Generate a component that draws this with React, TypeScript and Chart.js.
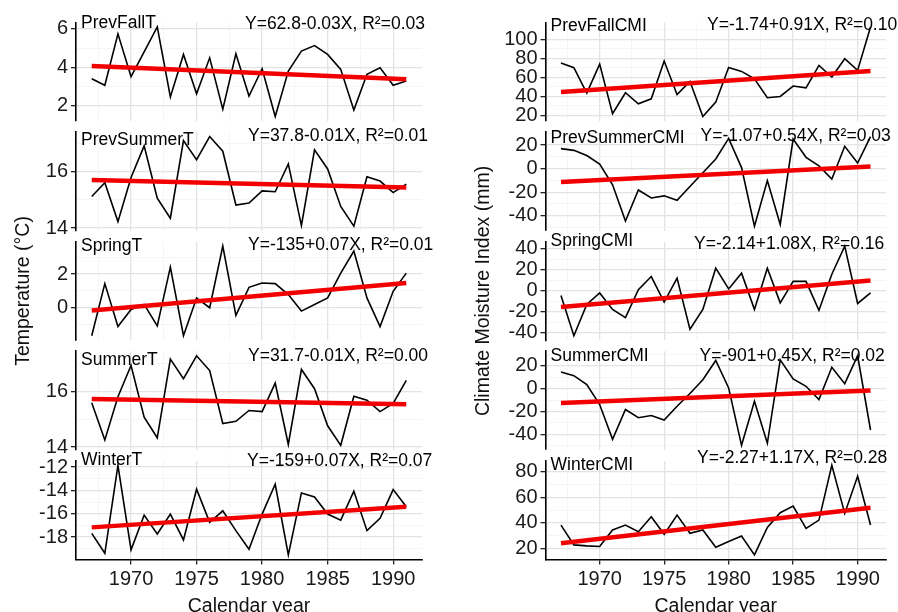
import React, { useEffect, useRef } from 'react';
import { Chart, registerables } from 'chart.js';

Chart.register(...registerables);

// ---------------- data ----------------
const years = [1967, 1968, 1969, 1970, 1971, 1972, 1973, 1974, 1975, 1976, 1977, 1978, 1979, 1980, 1981, 1982, 1983, 1984, 1985, 1986, 1987, 1988, 1989, 1990, 1991];

const prevFallT = [3.40, 3.06, 5.74, 3.51, 4.80, 6.10, 2.45, 4.67, 2.62, 4.49, 1.81, 4.70, 2.50, 3.92, 1.43, 3.80, 4.84, 5.13, 4.67, 3.89, 1.77, 3.63, 3.97, 3.06, 3.28];
const prevSummerT = [15.12, 15.61, 14.23, 15.80, 16.92, 15.06, 14.35, 17.11, 16.43, 17.25, 16.73, 14.82, 14.89, 15.32, 15.29, 16.28, 14.09, 16.78, 16.10, 14.77, 14.07, 15.82, 15.67, 15.26, 15.56];
const springT = [-1.70, 1.43, -1.15, -0.12, 0.18, -1.11, 2.42, -1.70, 0.57, -0.02, 3.68, -0.48, 1.21, 1.47, 1.43, 0.77, -0.22, 0.18, 0.57, 2.06, 3.39, 0.57, -1.15, 0.97, 2.06];
const summerT = [15.59, 14.25, 15.80, 16.92, 15.07, 14.33, 17.15, 16.45, 17.27, 16.74, 14.84, 14.92, 15.31, 15.27, 16.29, 14.09, 16.78, 16.09, 14.76, 14.06, 15.82, 15.68, 15.27, 15.56, 16.39];
const winterT = [-17.68, -19.39, -11.86, -19.10, -16.12, -17.74, -16.03, -18.25, -13.90, -16.74, -15.75, -17.45, -19.05, -16.03, -13.48, -19.53, -14.22, -14.56, -16.03, -16.55, -14.07, -17.45, -16.40, -13.93, -15.41];

const prevFallCMI = [75.1, 70.2, 43.5, 74.0, 21.8, 43.9, 32.3, 37.5, 77.2, 42.1, 55.8, 18.9, 34.0, 70.5, 66.3, 58.6, 38.6, 40.0, 50.9, 49.1, 72.6, 60.4, 79.6, 67.4, 113.0];
const prevSummerCMI = [17.0, 15.5, 11.1, 3.8, -13.7, -44.4, -18.1, -24.9, -23.1, -26.9, -15.2, -3.5, 8.2, 25.7, 0.9, -48.8, -10.2, -47.4, 25.1, 9.6, 2.3, -8.8, 19.0, 4.7, 27.2];
const springCMI = [-4.7, -42.8, -13.1, -2.2, -17.8, -25.6, 0.9, 13.4, -10.9, 11.9, -36.6, -17.8, 21.3, 1.6, 16.6, -17.8, 21.3, -11.6, 8.8, 8.8, -18.8, 15.6, 42.2, -12.2, -2.2];
const summerCMI = [14.5, 11.3, 3.5, -13.9, -44.3, -18.3, -25.5, -23.5, -27.5, -15.4, -4.3, 7.8, 24.6, 0.6, -49.6, -11.0, -47.8, 25.2, 8.4, 2.0, -9.6, 18.6, 4.3, 28.7, -36.2];
const winterCMI = [38.2, 22.6, 21.8, 21.3, 34.3, 38.2, 33.0, 44.8, 30.9, 46.1, 31.7, 34.3, 20.7, 25.2, 29.6, 14.7, 36.4, 47.9, 53.1, 35.6, 42.1, 85.2, 47.4, 76.6, 38.2];

// fitted trend line end values (at 1967 and 1991)
const trendPrevFallT = [4.06, 3.37];
const trendPrevSummerT = [15.71, 15.44];
const trendSpringT = [-0.18, 1.47];
const trendSummerT = [15.72, 15.53];
const trendWinterT = [-17.17, -15.41];
const trendPrevFallCMI = [44.6, 66.7];
const trendPrevSummerCMI = [-11.4, 1.8];
const trendSpringCMI = [-15.6, 9.7];
const trendSummerCMI = [-12.5, -1.7];
const trendWinterCMI = [23.9, 51.8];

const panelNames = ['PrevFallT', 'PrevSummerT', 'SpringT', 'SummerT', 'WinterT', 'PrevFallCMI', 'PrevSummerCMI', 'SpringCMI', 'SummerCMI', 'WinterCMI'];
const equations = [
  'Y=62.8-0.03X, R²=0.03',
  'Y=37.8-0.01X, R²=0.01',
  'Y=-135+0.07X, R²=0.01',
  'Y=31.7-0.01X, R²=0.00',
  'Y=-159+0.07X, R²=0.07',
  'Y=-1.74+0.91X, R²=0.10',
  'Y=-1.07+0.54X, R²=0.03',
  'Y=-2.14+1.08X, R²=0.16',
  'Y=-901+0.45X, R²=0.02',
  'Y=-2.27+1.17X, R²=0.28',
];

// tick values
const xMajorTicks = [1970, 1975, 1980, 1985, 1990];
const xMinorTicks = [1967.5, 1972.5, 1977.5, 1982.5, 1987.5];
const yMajorTicks = [
  [2, 4, 6], [14, 16], [0, 2], [14, 16], [-18, -16, -14, -12],
  [20, 40, 60, 80, 100], [-40, -20, 0, 20], [-40, -20, 0, 20, 40], [-40, -20, 0, 20], [20, 40, 60, 80],
];
const yMinorTicks = [
  [3, 5], [15, 17], [-1, 1, 3], [15, 17], [-19, -17, -15, -13],
  [30, 50, 70, 90, 110], [-50, -30, -10, 10, 30], [-30, -10, 10, 30], [-50, -30, -10, 10, 30], [30, 50, 70],
];

const yTitles = ['Temperature (°C)', 'Climate Moisture Index (mm)'];
const xTitle = 'Calendar year';

const seriesList = [prevFallT, prevSummerT, springT, summerT, winterT, prevFallCMI, prevSummerCMI, springCMI, summerCMI, winterCMI];
const trendList = [trendPrevFallT, trendPrevSummerT, trendSpringT, trendSummerT, trendWinterT, trendPrevFallCMI, trendPrevSummerCMI, trendSpringCMI, trendSummerCMI, trendWinterCMI];

// ---------------- layout / style ----------------
const W = 898;
const H = 612;
const FONT = '"Liberation Sans", Arimo, Arial, sans-serif';
const COLS = [
  { plotLeft: 76, plotRight: 422, axisLeft: 0 },
  { plotLeft: 545.5, plotRight: 886, axisLeft: 460 },
];
const ROW_TOP = 22.5;
const ROW_STEP = 109.6;
const ROW_H = 98.5;
// text placement per panel: [label baseline dy, equation dx, equation baseline dy]
const TEXT_POS = [
  [5, 169, 6], [13, 172, 9], [9.5, 172, 8.5], [14, 172, 9.5], [4.5, 171, 5.5],
  [8, 161.5, 7.5], [11, 155, 8.7], [4.5, 148.5, 7.3], [10, 154, 10], [9, 151.5, 2],
];
const MAJOR_GRID = '#e3e3e3';
const MINOR_GRID = '#f0f0f0';

const panelTextPlugin = {
  id: 'panelText',
  afterDraw(chart: any, _args: any, opts: any) {
    const { ctx, chartArea } = chart;
    ctx.save();
    ctx.font = `17.5px ${FONT}`;
    ctx.fillStyle = '#000';
    ctx.textBaseline = 'alphabetic';
    ctx.textAlign = 'left';
    ctx.fillText(opts.label, chartArea.left + 5, chartArea.top + opts.labelDy);
    ctx.fillText(opts.eq, chartArea.left + opts.eqDx, chartArea.top + opts.eqDy);
    ctx.restore();
  },
};

function Panel({ index }: { index: number }) {
  const ref = useRef<HTMLCanvasElement | null>(null);

  useEffect(() => {
    const canvas = ref.current;
    if (!canvas) return;
    const colIdx = index < 5 ? 0 : 1;
    const row = index % 5;
    const col = COLS[colIdx];
    const values = seriesList[index];
    const trend = trendList[index];
    const majors = yMajorTicks[index];
    const minors = yMinorTicks[index];
    const isBottom = row === 4;
    const top = ROW_TOP + row * ROW_STEP;
    const bottom = top + ROW_H;

    const xFirst = years[0];
    const xLast = years[years.length - 1];
    const xSpan = xLast - xFirst;
    const dMin = Math.min(...values);
    const dMax = Math.max(...values);
    const dSpan = dMax - dMin;

    const xTicksAll = [...xMinorTicks, ...xMajorTicks].sort((a, b) => a - b);
    const yTicksAll = [...minors, ...majors].sort((a, b) => a - b);

    const chart = new Chart(canvas, {
      type: 'line',
      data: {
        datasets: [
          {
            data: [
              { x: xFirst, y: trend[0] },
              { x: xLast, y: trend[1] },
            ],
            borderColor: '#f20000',
            borderWidth: 4.5,
            borderCapStyle: 'butt',
            pointRadius: 0,
            tension: 0,
          },
          {
            data: years.map((yr, i) => ({ x: yr, y: values[i] })),
            borderColor: '#000000',
            borderWidth: 1.6,
            pointRadius: 0,
            tension: 0,
          },
        ],
      },
      options: {
        responsive: false,
        animation: false,
        events: [],
        layout: {
          padding: {
            left: col.axisLeft,
            right: W - col.plotRight,
            top: top,
            bottom: isBottom ? 0 : H - bottom,
          },
        },
        plugins: {
          legend: { display: false },
          tooltip: { enabled: false },
          panelText: {
            label: panelNames[index],
            eq: equations[index],
            labelDy: TEXT_POS[index][0],
            eqDx: TEXT_POS[index][1],
            eqDy: TEXT_POS[index][2],
          },
        } as any,
        scales: {
          x: {
            type: 'linear',
            min: xFirst - 0.05 * xSpan,
            max: xLast + 0.05 * xSpan,
            afterBuildTicks: (s: any) => {
              s.ticks = xTicksAll.map((v) => ({ value: v }));
            },
            afterFit: (s: any) => {
              s.height = isBottom ? H - bottom : 0;
            },
            border: { display: isBottom, color: '#000', width: 1.5 },
            grid: {
              color: (c: any) => (xMajorTicks.includes(c.tick?.value) ? MAJOR_GRID : MINOR_GRID),
              lineWidth: (c: any) => (xMajorTicks.includes(c.tick?.value) ? 1.3 : 0.7),
              drawTicks: isBottom,
              tickLength: 5,
              tickWidth: 1.3,
              tickColor: (c: any) => (xMajorTicks.includes(c.tick?.value) ? '#222' : 'rgba(0,0,0,0)'),
            },
            ticks: {
              display: isBottom,
              autoSkip: false,
              maxRotation: 0,
              minRotation: 0,
              padding: 3,
              color: '#1a1a1a',
              font: { family: FONT, size: 20 },
              callback: (v: any) => (xMajorTicks.includes(Number(v)) ? String(v) : ''),
            },
            title: {
              display: isBottom,
              text: xTitle,
              color: '#111',
              font: { family: FONT, size: 19.5, lineHeight: 0.6 },
              padding: 0,
            },
          },
          y: {
            type: 'linear',
            min: dMin - 0.05 * dSpan,
            max: dMax + 0.05 * dSpan,
            afterBuildTicks: (s: any) => {
              s.ticks = yTicksAll.map((v) => ({ value: v }));
            },
            afterFit: (s: any) => {
              s.width = col.plotLeft - col.axisLeft;
            },
            border: { display: true, color: '#000', width: 1.6 },
            grid: {
              color: (c: any) => (majors.includes(c.tick?.value) ? MAJOR_GRID : MINOR_GRID),
              lineWidth: (c: any) => (majors.includes(c.tick?.value) ? 1.3 : 0.7),
              drawTicks: true,
              tickLength: 5,
              tickWidth: 1.3,
              tickColor: (c: any) => (majors.includes(c.tick?.value) ? '#222' : 'rgba(0,0,0,0)'),
            },
            ticks: {
              autoSkip: false,
              padding: 3,
              color: '#1a1a1a',
              font: { family: FONT, size: 20 },
              callback: (v: any) => (majors.includes(Number(v)) ? String(v) : ''),
            },
            title: {
              display: row === 2,
              text: yTitles[colIdx],
              color: '#111',
              font: { family: FONT, size: 19.5 },
              padding: { top: 11.5, bottom: 0 },
            },
          },
        },
      } as any,
      plugins: [panelTextPlugin as any],
    });

    return () => chart.destroy();
  }, [index]);

  return (
    <canvas
      ref={ref}
      width={W}
      height={H}
      style={{ position: 'absolute', left: 0, top: 0, width: W, height: H }}
    />
  );
}

export default function App() {
  return (
    <div
      style={{
        position: 'absolute',
        left: 0,
        top: 0,
        width: W,
        height: H,
        background: '#ffffff',
        overflow: 'hidden',
      }}
    >
      {panelNames.map((_, i) => (
        <Panel key={i} index={i} />
      ))}
    </div>
  );
}
